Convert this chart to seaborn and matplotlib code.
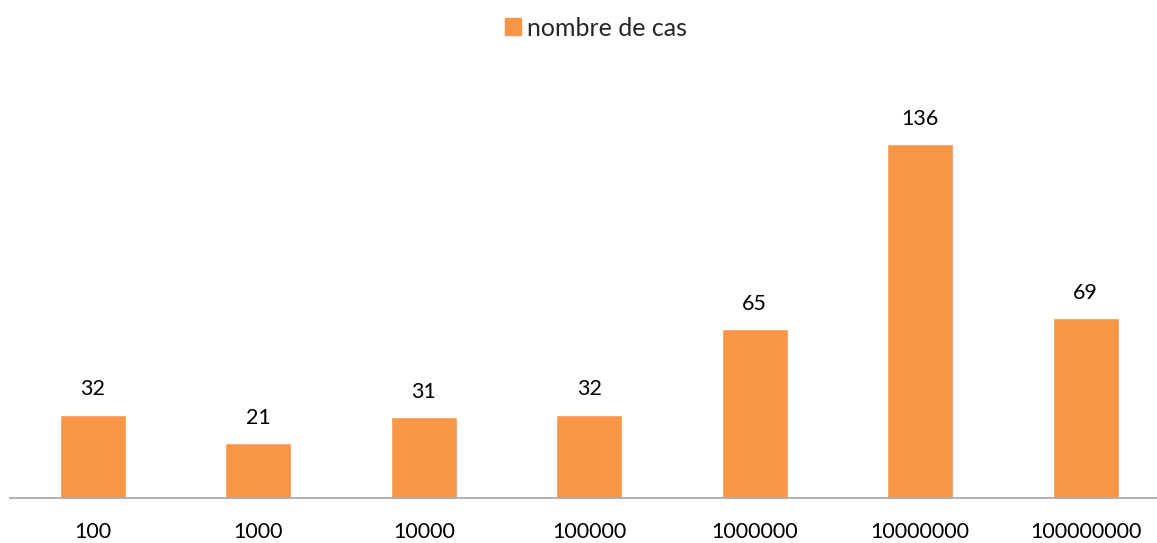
import pandas as pd
import seaborn as sns
import matplotlib.pyplot as plt
from matplotlib.patches import Patch

categories = ["100", "1000", "10000", "100000", "1000000", "10000000", "100000000"]
cases = [32, 21, 31, 32, 65, 136, 69]
series_name = "nombre de cas"

df = pd.DataFrame({"taille": categories, "cas": cases})

sns.set_theme(style="white")
plt.rcParams['font.family'] = ['Lato', 'DejaVu Sans']
orange = "#F79646"

fig = plt.figure(figsize=(11.57, 5.43), dpi=100)
# plot area runs slightly past the right edge, as in the reference
ax = fig.add_axes([10 / 1157, 45 / 543, 1158.5 / 1157, (498 - 81.5) / 543])
sns.barplot(x="taille", y="cas", data=df, color=orange, width=0.4,
            saturation=1, ax=ax)

for p, v in zip(ax.patches, cases):
    ax.annotate(str(v), (p.get_x() + p.get_width() / 2, p.get_height()),
                xytext=(0, 11), textcoords="offset points",
                ha="center", va="bottom", fontsize=15.5, color="#000000")

ax.set_ylim(0, 160)
ax.set_xlim(-0.5, len(categories) - 0.5)
ax.set(xlabel="", ylabel="")
ax.set_yticks([])
ax.tick_params(axis="x", labelsize=15.5, colors="#000000", length=0, pad=17)
sns.despine(ax=ax, left=True, top=True, right=True)
ax.spines["bottom"].set_color("#A6A6A6")
ax.spines["bottom"].set_linewidth(1.2)

fig.legend(handles=[Patch(color=orange, label=series_name)], loc="center",
           bbox_to_anchor=(596 / 1157, 1 - 28 / 543), frameon=False, fontsize=18,
           handlelength=0.65, handleheight=0.65, handletextpad=0.25)

fig.savefig("out.png", dpi=100)
